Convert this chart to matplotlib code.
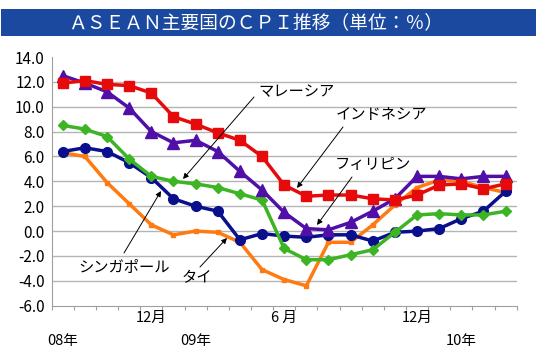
import numpy as np
import matplotlib
matplotlib.use("Agg")
import matplotlib.pyplot as plt
from matplotlib.patches import Rectangle
from matplotlib.transforms import blended_transform_factory

plt.rcParams['font.family'] = ['Noto Sans CJK JP', 'DejaVu Sans']

# Aug 2008 .. Apr 2010 (monthly)
months = np.arange(21)
indonesia = [11.9, 12.1, 11.8, 11.7, 11.1, 9.2, 8.6, 7.9, 7.3, 6.0, 3.7, 2.8, 2.9, 2.9,
             2.6, 2.5, 2.9, 3.7, 3.8, 3.4, 3.8]
philippines = [12.5, 11.9, 11.2, 9.9, 8.0, 7.1, 7.3, 6.4, 4.8, 3.3, 1.5, 0.2, 0.1, 0.7,
               1.6, 2.6, 4.4, 4.4, 4.2, 4.4, 4.4]
malaysia = [8.5, 8.2, 7.6, 5.8, 4.4, 4.0, 3.8, 3.5, 3.0, 2.5, -1.4, -2.3, -2.3, -1.9,
            -1.5, -0.1, 1.3, 1.4, 1.3, 1.3, 1.6]
singapore = [6.4, 6.7, 6.4, 5.5, 4.3, 2.6, 2.0, 1.6, -0.7, -0.2, -0.4, -0.5, -0.3, -0.3,
             -0.8, -0.1, 0.0, 0.2, 1.0, 1.6, 3.2]
thailand = [6.3, 6.0, 3.9, 2.2, 0.5, -0.3, 0.0, -0.1, -0.9, -3.1, -3.9, -4.4, -0.9, -0.9,
            0.5, 2.1, 3.5, 4.1, 4.0, 3.5, 3.1]

yticks = [-6, -4, -2, 0, 2, 4, 6, 8, 10, 12, 14]
month_labels = {4: '12月', 10: '6 月', 16: '12月'}
year_labels = {0: '08年', 6: '09年', 18: '10年'}

fig = plt.figure(figsize=(5.37, 3.57), dpi=100)
fig.patch.set_facecolor('white')

# title banner
fig.add_artist(Rectangle((1 / 537, 1 - 35.7 / 357), 535 / 537, 26.7 / 357,
                         transform=fig.transFigure, facecolor='#1c49a0',
                         edgecolor='none'))
fig.text(256 / 537, 1 - 22.5 / 357, 'ＡＳＥＡＮ主要国のＣＰＩ推移（単位：％）',
         color='white', fontsize=13.5, ha='center', va='center')

ax = fig.add_axes([51.7 / 537, 1 - 305.7 / 357, 465 / 537, 248.7 / 357])
ax.set_xlim(-0.5, 20.5)
ax.set_ylim(-6, 14)

# grid lines (none at the top value)
for y in yticks[1:-1]:
    ax.axhline(y, color='#b4b4b4', lw=1, zorder=0)

lw = 2.5
ax.plot(months, thailand, color='#ff7a10', lw=lw, marker='s', ms=2.5, zorder=2)
ax.plot(months, singapore, color='#0a0f8c', lw=lw, marker='o', ms=7, zorder=3)
ax.plot(months, malaysia, color='#3cb424', lw=lw, marker='D', ms=5.5, zorder=3)
ax.plot(months, philippines, color='#5010a8', lw=lw, marker='^', ms=8, zorder=4)
ax.plot(months, indonesia, color='#e60a0a', lw=lw, marker='s', ms=7, zorder=5)

for s in ['top', 'right']:
    ax.spines[s].set_visible(False)
ax.spines['left'].set_color('#a0a0a0')
ax.spines['bottom'].set_color('#a0a0a0')

ax.set_yticks(yticks)
ax.set_yticklabels([f'{v:.1f}' for v in yticks], fontsize=11)
ax.tick_params(axis='y', length=0, pad=5)

ax.set_xticks(np.arange(-0.5, 21, 1))
ax.set_xticklabels([])
ax.tick_params(axis='x', length=3, color='#a0a0a0')

# two-level category labels
trans = blended_transform_factory(ax.transData, fig.transFigure)
for i, lab in month_labels.items():
    ax.text(i, 1 - 318 / 357, lab, transform=trans, fontsize=10.5,
            ha='center', va='center')
for i, lab in year_labels.items():
    ax.text(i, 1 - 341 / 357, lab, transform=trans, fontsize=10.5,
            ha='center', va='center')


def px(x, y):
    """pixel position in the 537x357 picture -> figure fraction"""
    return (x / 537, 1 - y / 357)


# series labels with arrows
labels = [
    ('マレーシア', (297, 92), (254, 97), (183, 179)),
    ('インドネシア', (381, 115), (343, 127), (297, 188)),
    ('フィリピン', (373, 165), (352, 177), (317, 225)),
    ('シンガポール', (124, 267), (124, 253), (161, 191)),
    ('タイ', (197, 278), (200, 267), (227, 238)),
]
for text, tpos, start, end in labels:
    fig.text(*px(*tpos), text, fontsize=11, ha='center', va='center')
    ax.annotate('', xy=px(*end), xycoords='figure fraction',
                xytext=px(*start), textcoords='figure fraction',
                arrowprops=dict(arrowstyle='-|>', color='black', lw=0.7,
                                mutation_scale=8, shrinkA=0, shrinkB=0),
                zorder=6)

fig.savefig('out.png', dpi=100)
